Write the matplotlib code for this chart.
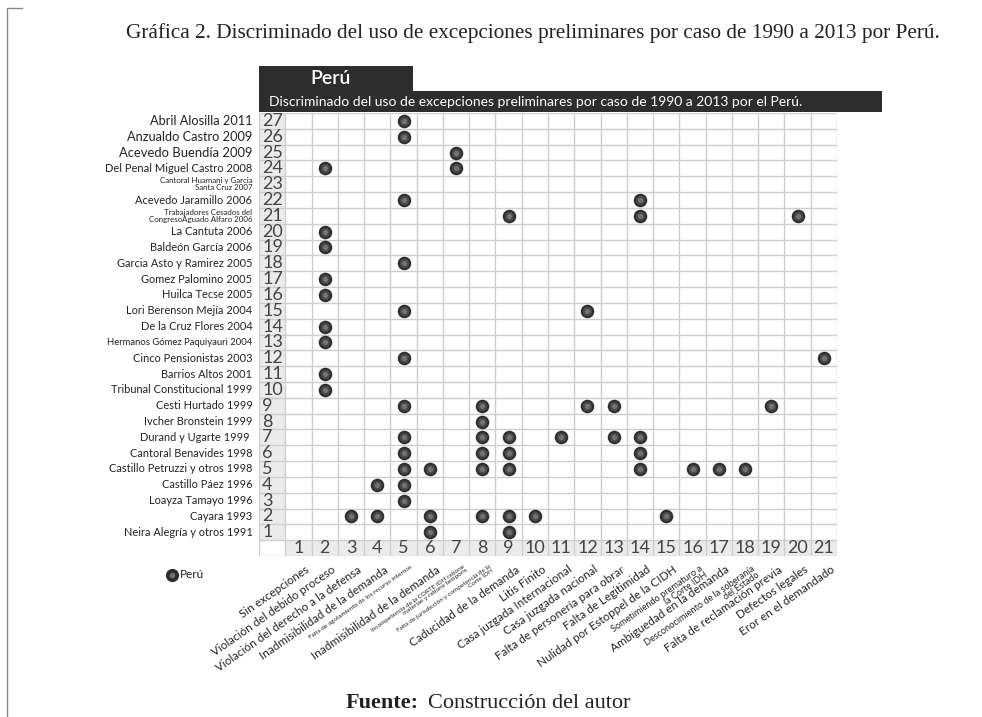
import matplotlib
matplotlib.use("Agg")
import matplotlib.pyplot as plt
import matplotlib.transforms as mtransforms
from matplotlib.patches import Rectangle
from matplotlib.lines import Line2D

# casos (fila 1 abajo -> fila 27 arriba)
casos = [
    "Neira Alegría y otros 1991",
    "Cayara 1993",
    "Loayza Tamayo 1996",
    "Castillo Páez 1996",
    "Castillo Petruzzi y otros 1998",
    "Cantoral Benavides 1998",
    "Durand y Ugarte 1999 ",
    "Ivcher Bronstein 1999",
    "Cesti Hurtado 1999",
    "Tribunal Constitucional 1999",
    "Barrios Altos 2001",
    "Cinco Pensionistas 2003",
    "Hermanos Gómez Paquiyauri 2004",
    "De la Cruz Flores 2004",
    "Lori Berenson Mejía 2004",
    "Huilca Tecse 2005",
    "Gomez Palomino 2005",
    "Garcia Asto y Ramirez 2005",
    "Baldeón García 2006",
    "La Cantuta 2006",
    "Trabajadores Cesados del\nCongresoAguado Alfaro 2006",
    "Acevedo Jaramillo 2006",
    "Cantoral Huamani y Garcia\nSanta Cruz 2007",
    "Del Penal Miguel Castro 2008",
    "Acevedo Buendía 2009",
    "Anzualdo Castro 2009",
    "Abril Alosilla 2011",
]

excepciones = [
    "Sin excepciones",
    "Violación del debido proceso",
    "Violación del derecho a la defensa",
    "Inadmisibilidad de la demanda",
    "Falta de agotamiento de los recurso internos",
    "Inadmisibilidad de la demanda",
    "Incompetencia de la CORTE IDH ratione\nmateriae y ratione temporis",
    "Falta de jurisdicción y competencia de la\nCorte IDH",
    "Caducidad de la demanda",
    "Litis Finito",
    "Casa juzgada Internacional",
    "Casa juzgada nacional",
    "Falta de personería para obrar",
    "Falta de Legitimidad",
    "Nulidad por Estoppel de la CIDH",
    "Sometimiendo prematuro a\nla Corte IDH",
    "Ambiguedad en la demanda",
    "Desconocimiento de la soberanía\ndel Estado",
    "Falta de reclamación previa",
    "Defectos legales",
    "Eror en el demandado",
]

# excepciones usadas por cada caso (mismo orden que casos)
marcas = [
    [6, 9],
    [3, 4, 6, 8, 9, 10, 15],
    [5],
    [4, 5],
    [5, 6, 8, 9, 14, 16, 17, 18],
    [5, 8, 9, 14],
    [5, 8, 9, 11, 13, 14],
    [8],
    [5, 8, 12, 13, 19],
    [2],
    [2],
    [5, 21],
    [2],
    [2],
    [5, 12],
    [2],
    [2],
    [5],
    [2],
    [2],
    [9, 14, 20],
    [5, 14],
    [],
    [2, 7],
    [7],
    [5],
    [5],
]

# tamanos de letra especiales
case_fs = {27: 9.2, 26: 9.2, 25: 9.4, 21: 5.7, 23: 5.7, 13: 6.8, 24: 8.0}
exc_fs = {5: 4.6, 7: 4.6, 8: 4.6, 16: 6.6, 18: 6.6}

W, H = 982, 717
SANS = ["Lato", "DejaVu Sans"]
SERIF = ["Liberation Serif", "DejaVu Serif"]


def fx(x):
    return x / W


def fy(y):
    return 1 - y / H


fig = plt.figure(figsize=(W / 100, H / 100), dpi=100)
fig.patch.set_facecolor("white")

n_rows = len(casos)
n_cols = len(excepciones)

# grid area: number column + 21 columns, 27 rows + number row
ax = fig.add_axes([fx(259), fy(556), fx(837) - fx(259), fy(113) - fy(556)])
ax.set_xlim(-0.5, n_cols + 0.5)
ax.set_ylim(-0.5, n_rows + 0.5)
ax.axis("off")

# shaded number column and number row
ax.add_patch(Rectangle((-0.5, 0.5), 1, n_rows, facecolor="#ebebeb", edgecolor="none", zorder=0))
ax.add_patch(Rectangle((0.5, -0.5), n_cols, 1, facecolor="#ebebeb", edgecolor="none", zorder=0))

grid_c = "#cdcdcd"
for i in range(n_cols + 2):
    ax.plot([i - 0.5, i - 0.5], [-0.5, n_rows + 0.5], color=grid_c, lw=1, zorder=1)
for j in range(n_rows + 2):
    ax.plot([-0.5, n_cols + 0.5], [j - 0.5, j - 0.5], color=grid_c, lw=1, zorder=1)

# dots
xs, ys = [], []
for r, cols in enumerate(marcas, start=1):
    for c in cols:
        xs.append(c)
        ys.append(r)
ax.scatter(xs, ys, s=95, color="#2e2e2e", zorder=3, linewidths=0)
ax.scatter(xs, ys, s=45, color="#4a4a4a", zorder=4, linewidths=0)
ax.scatter(xs, ys, s=14, color="#727272", zorder=5, linewidths=0)

# row numbers and case names
for r, name in enumerate(casos, start=1):
    ax.text(-0.38, r, str(r), ha="left", va="center", fontsize=13,
            family=SANS, color="#444444")
    ax.text(-0.75, r, name, ha="right", va="center", fontsize=case_fs.get(r, 7.9),
            family=SANS, color="#222222", linespacing=0.9)

# column numbers
for c in range(1, n_cols + 1):
    ax.text(c, -0.02, str(c), ha="center", va="center", fontsize=13,
            family=SANS, color="#444444")

# rotated exception labels
trans = mtransforms.blended_transform_factory(ax.transData, fig.transFigure)
for c, lab in enumerate(excepciones, start=1):
    ax.text(c + 0.25, fy(564), lab, transform=trans, rotation=35,
            rotation_mode="anchor", ha="right", va="top", fontsize=exc_fs.get(c, 8.4),
            family=SANS, color="#222222", multialignment="right",
            linespacing=0.9)

# header boxes
fig.add_artist(Rectangle((fx(259), fy(91)), fx(413) - fx(259), fy(66) - fy(91),
                         transform=fig.transFigure, facecolor="#2d2d2d", edgecolor="none"))
fig.add_artist(Rectangle((fx(259), fy(112)), fx(882) - fx(259), fy(91) - fy(112),
                         transform=fig.transFigure, facecolor="#2d2d2d", edgecolor="none"))
fig.text(fx(331), fy(78), "Perú", ha="center", va="center", fontsize=14,
         family=SANS, fontweight="semibold", color="white")
fig.text(fx(269), fy(101.5), "Discriminado del uso de excepciones preliminares por caso de 1990 a 2013 por el Perú.",
         ha="left", va="center", fontsize=10, family=SANS, color="white")

# title
fig.text(fx(533), fy(33), "Gráfica 2. Discriminado del uso de excepciones preliminares por caso de 1990 a 2013 por Perú.",
         ha="center", va="center", fontsize=15.3, family=SERIF, color="#222222")

# legend
fig.add_artist(Line2D([fx(172)], [fy(575)], marker="o", markersize=9.5, color="#2e2e2e",
                      markeredgewidth=0, transform=fig.transFigure))
fig.add_artist(Line2D([fx(172)], [fy(575)], marker="o", markersize=4, color="#727272",
                      markeredgewidth=0, transform=fig.transFigure))
fig.text(fx(180), fy(575), "Perú", ha="left", va="center", fontsize=8.5, family=SANS, color="#222222")

# footer
fig.text(fx(419), fy(703), "Fuente:", ha="right", va="center", fontsize=16,
         family=SERIF, fontweight="bold", color="#222222")
fig.text(fx(428), fy(703), "Construcción del autor", ha="left", va="center", fontsize=16,
         family=SERIF, color="#222222")

# left bracket
fig.add_artist(Line2D([fx(22), fx(7), fx(7)], [fy(8), fy(8), fy(717)],
                      color="#8a8a8a", lw=1, transform=fig.transFigure))

fig.savefig("out.png", dpi=100)
